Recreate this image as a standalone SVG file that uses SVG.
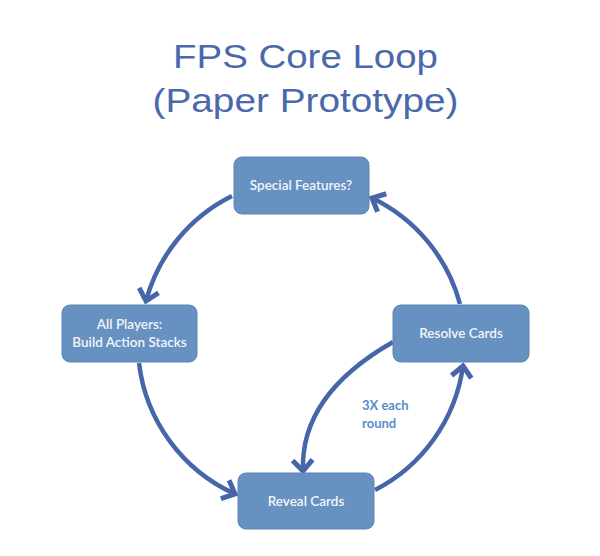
<svg xmlns="http://www.w3.org/2000/svg" width="600" height="556" viewBox="0 0 600 556">
<style>
.title{font-family:"Liberation Sans",Arial,sans-serif;font-size:34px;fill:#4A68AA;text-anchor:middle}
.box{fill:#6691C0;stroke:#5A85B6;stroke-width:1}
.lbl{font-family:Lato,"Open Sans",sans-serif;font-size:13.5px;font-weight:600;fill:#F2F6FB;text-anchor:middle}
.conn{fill:none;stroke:#4766A9;stroke-width:4.5}
.note{font-family:Lato,"Open Sans",sans-serif;font-size:13px;font-weight:700;fill:#5B8BC9}
</style>
<defs>
<marker id="ah" markerUnits="userSpaceOnUse" markerWidth="30" markerHeight="30" refX="0" refY="0" viewBox="-16 -15 20 30" orient="auto">
<path d="M-11,-10 L0,0 L-11,10" fill="none" stroke="#4766A9" stroke-width="5" stroke-linejoin="miter"/>
</marker>
</defs>
<rect width="600" height="556" fill="#FFFFFF"/>
<text class="title" x="305.5" y="68" textLength="265" lengthAdjust="spacingAndGlyphs">FPS Core Loop</text>
<text class="title" x="305.5" y="112" textLength="306" lengthAdjust="spacingAndGlyphs">(Paper Prototype)</text>
<g id="connectors">
<path class="conn" d="M232,196 A165,165 0 0,0 146,301" marker-end="url(#ah)"/>
<path class="conn" d="M460,304 A165,165 0 0,0 372,198" marker-end="url(#ah)"/>
<path class="conn" d="M139,363 A165,165 0 0,0 235,494" marker-end="url(#ah)"/>
<path class="conn" d="M375,490 A165,165 0 0,0 463,366" marker-end="url(#ah)"/>
<path class="conn" d="M393,342 Q300,395 303,471" marker-end="url(#ah)"/>
</g>
<g id="special-features">
<rect class="box" x="234" y="157" width="135" height="57" rx="8"/>
<text class="lbl" x="301" y="190">Special Features?</text>
</g>
<g id="all-players">
<rect class="box" x="62" y="305" width="135" height="57" rx="8"/>
<text class="lbl" x="129.5" y="329">All Players:</text>
<text class="lbl" x="129.5" y="347">Build Action Stacks</text>
</g>
<g id="resolve-cards">
<rect class="box" x="393" y="305" width="136" height="57" rx="8"/>
<text class="lbl" x="461" y="338">Resolve Cards</text>
</g>
<g id="reveal-cards">
<rect class="box" x="238" y="473" width="136" height="56" rx="8"/>
<text class="lbl" x="306" y="506">Reveal Cards</text>
</g>
<g id="note">
<text class="note" x="362" y="410">3X each</text>
<text class="note" x="362" y="428">round</text>
</g>
</svg>
